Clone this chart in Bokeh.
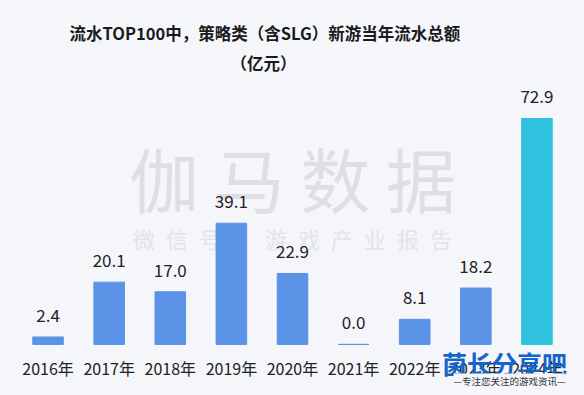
from bokeh.plotting import figure
from bokeh.models import ColumnDataSource, Title, Label
from bokeh.embed import file_html
from bokeh.resources import INLINE
from bokeh.core.properties import value

years = ["2016年", "2017年", "2018年", "2019年", "2020年", "2021年", "2022年", "2023年", "2024年"]
revenue = [2.4, 20.1, 17.0, 39.1, 22.9, 0.0, 8.1, 18.2, 72.9]
bar_colors = ["#5B94E6"] * 8 + ["#2EC2E0"]
labels = ["%.1f" % v for v in revenue]

FONT = "Noto Sans CJK SC"
BG = "#F4F6FA"
EN = "\u2002"

src = ColumnDataSource(dict(x=years, y=revenue, c=bar_colors, t=labels))

p = figure(x_range=years, y_range=(-13.9, 86.45), width=568, height=387,
           output_backend="svg", toolbar_location=None,
           background_fill_color=BG, border_fill_color=BG,
           outline_line_color=None, min_border_left=17, min_border_right=1,
           min_border_top=76, min_border_bottom=0)

# watermark (behind the bars)
p.add_layout(Label(x=275, y=210, x_units="screen", y_units="screen", text="伽 马 数 据",
                   text_font=FONT, text_font_size="70px", text_color="#DDDFE3",
                   text_align="center", text_baseline="middle", level="underlay"))
p.add_layout(Label(x=275, y=150, x_units="screen", y_units="screen",
                   text=EN.join("微信号：游戏产业报告"),
                   text_font=FONT, text_font_size="22px", text_color="#E2E4E8",
                   text_align="center", text_baseline="middle", level="underlay"))

p.vbar(x="x", top="y", width=0.5, color="c", source=src)
p.text(x="x", y="y", text="t", source=src, text_font=value(FONT),
       text_font_size="17px", text_color="#222222", text_align="center",
       text_baseline="bottom", y_offset=-15)

p.add_layout(Title(text="（亿元）", align="left", offset=213, text_font=FONT,
                   text_font_size="16.5px", text_font_style="bold", text_color="#1a1a1a",
                   standoff=4), "above")
p.add_layout(Title(text="流水TOP100中，策略类（含SLG）新游当年流水总额", align="left", offset=52,
                   text_font=FONT, text_font_size="16.5px", text_font_style="bold",
                   text_color="#1a1a1a", standoff=4), "above")

p.xaxis.fixed_location = 0
p.xaxis.axis_line_color = None
p.xaxis.major_tick_line_color = None
p.xaxis.minor_tick_line_color = None
p.xaxis.major_tick_out = 0
p.xaxis.major_tick_in = 0
p.xaxis.major_label_standoff = 12
p.xaxis.major_label_text_font = FONT
p.xaxis.major_label_text_font_size = "16px"
p.xaxis.major_label_text_color = "#222222"
p.yaxis.visible = False
p.xgrid.grid_line_color = None
p.ygrid.grid_line_color = None
p.x_range.range_padding = 0

# logo overlay
p.add_layout(Label(x=487, y=25, x_units="screen", y_units="screen", text="菌长分享吧",
                   text_font=FONT, text_font_size="25px", text_font_style="bold",
                   text_color="#1565C8", text_align="center", text_baseline="middle",
                   level="overlay"))
p.add_layout(Label(x=492, y=7, x_units="screen", y_units="screen",
                   text="—专注您关注的游戏资讯—", text_font=FONT, text_font_size="9.5px",
                   text_color="#333333", text_align="center", text_baseline="middle",
                   background_fill_color=BG, level="overlay"))

html = file_html(p, INLINE)
html = html.replace("<head>", "<head><style>html, body {background: %s;}</style>" % BG, 1)
open("out.html", "w").write(html)
